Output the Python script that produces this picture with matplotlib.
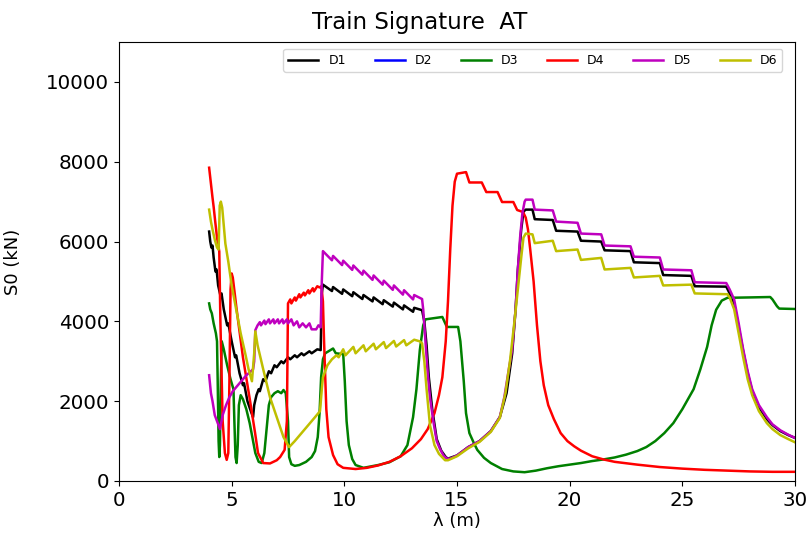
import matplotlib
matplotlib.use("Agg")
import matplotlib.pyplot as plt

# ---------------- data ----------------
d1_x = [4.00, 4.05, 4.10, 4.15, 4.20, 4.28, 4.33, 4.40, 4.50, 4.55, 4.65, 4.80, 4.85, 5.00, 5.15, 5.20,
        5.35, 5.50, 5.55, 5.70, 5.85, 5.95, 6.00, 6.10, 6.20, 6.25, 6.40, 6.50, 6.65, 6.75, 6.90, 7.00,
        7.20, 7.30, 7.50, 7.60, 7.80, 7.90, 8.10, 8.20, 8.45, 8.55, 8.80, 8.95, 9.00,
        9.05, 9.45, 9.50, 9.90, 9.95, 10.35, 10.40, 10.80, 10.85, 11.25, 11.30, 11.70, 11.75, 12.15,
        12.20, 12.60, 12.65, 13.05, 13.10, 13.45,
        13.55, 13.65, 13.75, 13.90, 14.10, 14.30, 14.50, 14.60, 15.00, 15.50, 16.00, 16.50, 16.90,
        17.20, 17.45, 17.60, 17.70, 17.85, 17.95, 18.05, 18.35, 18.45, 19.25, 19.40, 20.35, 20.50,
        21.40, 21.55, 22.70, 22.85, 24.00, 24.15, 25.40, 25.55, 26.95, 27.10, 27.30, 27.50, 27.70,
        27.90, 28.10, 28.40, 28.75, 29.00, 29.35, 29.70, 30.00]
d1_y = [6250, 6000, 5850, 5900, 5600, 5250, 5300, 4900, 4650, 4700, 4300, 3900, 3950, 3500, 3100, 3150,
        2700, 2400, 2450, 2000, 1750, 1600, 1900, 2150, 2300, 2250, 2550, 2500, 2750, 2700, 2900, 2850,
        3000, 2950, 3100, 3050, 3150, 3100, 3200, 3150, 3250, 3200, 3300, 3280, 4700,
        4920, 4760, 4860, 4690, 4800, 4630, 4730, 4560, 4660, 4500, 4600, 4430, 4530, 4370,
        4470, 4300, 4400, 4240, 4340, 4280,
        4000, 3400, 2600, 1800, 1050, 760, 600, 560, 640, 850, 1000, 1250, 1600,
        2200, 3200, 4300, 5300, 6300, 6750, 6800, 6800, 6560, 6540, 6270, 6250, 6020,
        6000, 5780, 5760, 5480, 5460, 5160, 5140, 4880, 4870, 4700, 4450, 3850, 3250,
        2700, 2250, 1850, 1550, 1400, 1250, 1150, 1080]

d2_x = []
d2_y = []

d3_x = [4.00, 4.05, 4.12, 4.20, 4.30, 4.35, 4.38, 4.42, 4.45, 4.48, 4.52, 4.56, 4.65, 4.80, 4.95, 5.08,
        5.12, 5.17, 5.22, 5.27, 5.32, 5.40, 5.50, 5.65, 5.80, 5.95, 6.05, 6.20, 6.33, 6.45, 6.55, 6.65,
        6.75, 6.90, 7.05, 7.20, 7.30, 7.40, 7.50, 7.55, 7.65, 7.80, 8.00, 8.30, 8.55, 8.70, 8.82, 8.90,
        8.97, 9.05, 9.15, 9.50, 9.62, 9.95, 10.02, 10.10, 10.20, 10.35, 10.50, 10.85, 11.50, 12.00,
        12.50, 12.80, 13.05, 13.20, 13.35, 13.50, 13.60, 14.35, 14.55, 15.05, 15.15, 15.30, 15.40,
        15.55, 15.75, 15.90, 16.20, 16.50, 17.00, 17.50, 18.00, 18.50, 19.00, 19.50, 20.00, 20.50,
        21.00, 21.50, 22.00, 22.50, 23.00, 23.40, 23.80, 24.20, 24.60, 25.00, 25.30, 25.50, 25.80,
        26.10, 26.30, 26.50, 26.75, 27.00, 28.00, 28.90, 29.00, 29.20, 29.30, 30.00]
d3_y = [4450, 4300, 4200, 3950, 3700, 3500, 2500, 1000, 600, 900, 2500, 3500, 3300, 2900, 2550, 2300,
        1500, 600, 450, 900, 1900, 2150, 2050, 1800, 1450, 1000, 700, 480, 450, 700, 1300, 1900,
        2100, 2200, 2250, 2200, 2280, 2200, 1500, 600, 420, 380, 400, 480, 600, 750, 1100, 1700,
        2600, 3050, 3200, 3320, 3200, 3180, 2500, 1500, 900, 550, 400, 330, 400, 470,
        620, 900, 1600, 2300, 3280, 3900, 4050, 4110, 3860, 3860, 3500, 2500, 1700,
        1200, 950, 780, 580, 450, 300, 240, 220, 260, 320, 370, 410, 450,
        500, 540, 590, 660, 750, 850, 1000, 1200, 1450, 1800, 2100, 2300, 2800,
        3360, 3900, 4290, 4520, 4590, 4600, 4610, 4550, 4380, 4320, 4310]

d4_x = [4.00, 4.05, 4.10, 4.15, 4.20, 4.27, 4.35, 4.45, 4.50, 4.60, 4.70, 4.78, 4.85, 4.90, 4.95, 5.00,
        5.05, 5.22, 5.50, 5.81, 6.04, 6.17, 6.40, 6.70, 7.00, 7.15, 7.35, 7.45, 7.50,
        7.60, 7.65, 7.80, 7.85, 8.00, 8.05, 8.20, 8.25, 8.40, 8.45, 8.60, 8.65, 8.80, 8.90, 8.98,
        9.05, 9.10, 9.20, 9.30, 9.50, 9.70, 9.95, 10.50, 11.00, 11.50, 12.00, 12.50, 13.00, 13.40,
        13.70, 14.00, 14.20, 14.35, 14.50, 14.60, 14.70, 14.80, 14.90, 15.00, 15.40, 15.55, 16.10,
        16.30, 16.80, 17.00, 17.50, 17.67, 17.93, 18.05, 18.15, 18.25, 18.40, 18.55, 18.70, 18.85,
        19.05, 19.30, 19.60, 19.90, 20.20, 20.50, 21.00, 21.50, 22.00, 23.00, 24.00, 25.00, 26.00,
        27.00, 28.00, 29.00, 30.00]
d4_y = [7850, 7600, 7350, 7100, 6870, 6500, 6100, 5750, 4000, 1500, 700, 530, 700, 2500, 4800, 5200,
        5100, 4300, 3100, 2030, 1200, 700, 450, 440, 520, 600, 780, 1500, 4450,
        4550, 4450, 4600, 4520, 4680, 4600, 4720, 4650, 4780, 4700, 4830, 4750, 4880, 4850, 4880,
        4500, 3500, 1800, 1100, 650, 420, 330, 300, 330, 390, 480, 620, 820, 1050,
        1300, 1700, 2150, 2600, 3500, 4500, 5800, 6900, 7500, 7700, 7740, 7480, 7480,
        7240, 7240, 6990, 6990, 6790, 6740, 6600, 6300, 5800, 5000, 3900, 3000, 2400,
        1900, 1550, 1200, 1000, 870, 760, 620, 540, 480, 410, 350, 310, 280,
        260, 240, 230, 230]

d5_x = [4.00, 4.08, 4.15, 4.25, 4.35, 4.48, 4.60, 4.75, 4.90, 5.05, 5.20, 5.35, 5.50, 5.65, 5.80, 5.95,
        6.00, 6.05, 6.15, 6.25, 6.30, 6.45, 6.50, 6.65, 6.70, 6.85, 6.90, 7.05, 7.10, 7.25, 7.30,
        7.45, 7.50, 7.65, 7.75, 7.90, 8.00, 8.15, 8.30, 8.45, 8.55, 8.75, 8.85, 8.95, 9.00,
        9.05, 9.45, 9.50, 9.90, 9.95, 10.35, 10.40, 10.80, 10.85, 11.25, 11.30, 11.70, 11.75, 12.15,
        12.20, 12.60, 12.65, 13.05, 13.10, 13.45,
        13.50, 13.60, 13.70, 13.80, 13.95, 14.10, 14.25, 14.40, 14.55, 14.70, 15.00, 15.50, 16.00,
        16.50, 16.90, 17.10, 17.30, 17.45, 17.60, 17.70, 17.80, 17.90, 18.00, 18.05, 18.35, 18.45,
        19.25, 19.40, 20.35, 20.50, 21.40, 21.55, 22.70, 22.85, 24.00, 24.15, 25.40, 25.55, 26.95,
        27.10, 27.30, 27.50, 27.70, 27.90, 28.10, 28.40, 28.75, 29.00, 29.35, 29.70, 30.00]
d5_y = [2650, 2200, 2000, 1650, 1500, 1300, 1650, 1900, 2100, 2250, 2350, 2450, 2550, 2650, 2720, 2800,
        3000, 3780, 3900, 3980, 3900, 4020, 3930, 4050, 3950, 4050, 3950, 4050, 3950, 4050, 3950,
        4050, 3950, 4050, 3900, 4000, 3850, 3950, 3850, 3950, 3800, 3800, 3900, 3850, 5000,
        5760, 5530, 5640, 5410, 5520, 5290, 5400, 5170, 5270, 5040, 5150, 4920, 5020, 4790,
        4900, 4670, 4780, 4550, 4660, 4560,
        4300, 3500, 2700, 2100, 1500, 1000, 800, 640, 560, 560, 640, 850, 1000,
        1250, 1600, 2100, 2800, 3300, 4300, 5300, 6100, 6700, 7000, 7050, 7050, 6800,
        6780, 6500, 6470, 6200, 6180, 5900, 5880, 5620, 5600, 5300, 5280, 4980, 4960,
        4800, 4550, 3950, 3300, 2750, 2300, 1900, 1600, 1420, 1270, 1160, 1080]

d6_x = [4.00, 4.08, 4.15, 4.25, 4.35, 4.42, 4.47, 4.52, 4.58, 4.65, 4.72, 4.85, 5.00, 5.20, 5.40, 5.60,
        5.75, 5.90, 6.00, 6.05, 6.15, 6.40, 6.70, 7.00, 7.30, 7.55, 7.80, 8.10, 8.40, 8.70, 8.92,
        9.00, 9.05, 9.25, 9.45, 9.65, 9.75, 9.95, 10.05, 10.40, 10.50, 10.85, 10.95, 11.30, 11.40,
        11.75, 11.85, 12.20, 12.30, 12.65, 12.75, 13.10, 13.35, 13.45,
        13.55, 13.65, 13.80, 14.00, 14.20, 14.47, 14.60, 15.00, 15.50, 16.00, 16.50, 16.90, 17.15,
        17.35, 17.55, 17.70, 17.85, 17.95, 18.05, 18.35, 18.45, 19.25, 19.40, 20.35, 20.50, 21.40,
        21.55, 22.70, 22.85, 24.00, 24.15, 25.40, 25.55, 27.00, 27.10, 27.30, 27.50, 27.70, 27.90,
        28.10, 28.40, 28.75, 29.00, 29.35, 29.70, 30.00]
d6_y = [6800, 6500, 6300, 6050, 5850, 5800, 6900, 7000, 6850, 6400, 5950, 5500, 4900, 4300, 3700, 3200,
        2800, 2500, 3200, 3750, 3400, 2800, 2100, 1600, 1100, 850, 1000, 1200, 1400, 1600, 1750,
        2300, 2600, 2900, 3050, 3150, 3100, 3300, 3150, 3360, 3200, 3400, 3250, 3440, 3300,
        3480, 3330, 3510, 3370, 3530, 3400, 3540, 3500, 3450,
        3000, 2300, 1400, 900, 680, 520, 520, 620, 820, 980, 1230, 1580, 2200,
        3000, 4000, 4800, 5600, 6100, 6200, 6180, 5960, 6020, 5760, 5800, 5540, 5590,
        5300, 5340, 5100, 5140, 4900, 4920, 4700, 4680, 4600, 4300, 3700, 3100, 2550,
        2150, 1750, 1450, 1300, 1150, 1050, 970]

series_names = ["D1", "D2", "D3", "D4", "D5", "D6"]
series_colors = ["k", "b", "g", "r", "m", "y"]

x_ticks = [0, 5, 10, 15, 20, 25, 30]
y_ticks = [0, 2000, 4000, 6000, 8000, 10000]

# ---------------- figure ----------------
fig = plt.figure(figsize=(8.07, 5.43), dpi=100)
ax = fig.add_axes([119 / 807, 1 - 481 / 543, (795 - 119) / 807, (481 - 42) / 543])

xs = [d1_x, d2_x, d3_x, d4_x, d5_x, d6_x]
ys = [d1_y, d2_y, d3_y, d4_y, d5_y, d6_y]
for x, y, name, c in zip(xs, ys, series_names, series_colors):
    ax.plot(x, y, color=c, lw=1.8, label=name)

ax.set_xlim(0, 30)
ax.set_ylim(0, 11000)
ax.set_xticks(x_ticks)
ax.set_yticks(y_ticks)
ax.tick_params(labelsize=14.3)
ax.set_xlabel("λ (m)", fontsize=13, labelpad=2)
ax.set_ylabel("S0 (kN)", fontsize=13)
ax.yaxis.set_label_coords(-0.143, 0.5)
ax.set_title("Train Signature  AT", fontsize=16.5, x=0.445, y=1.0, pad=9)

ax.legend(loc="upper right", ncol=6, fontsize=9, handlelength=2.4,
          handletextpad=0.8, columnspacing=2.3, bbox_to_anchor=(0.985, 0.99),
          borderaxespad=0.2)

fig.savefig("out.png", dpi=100)
